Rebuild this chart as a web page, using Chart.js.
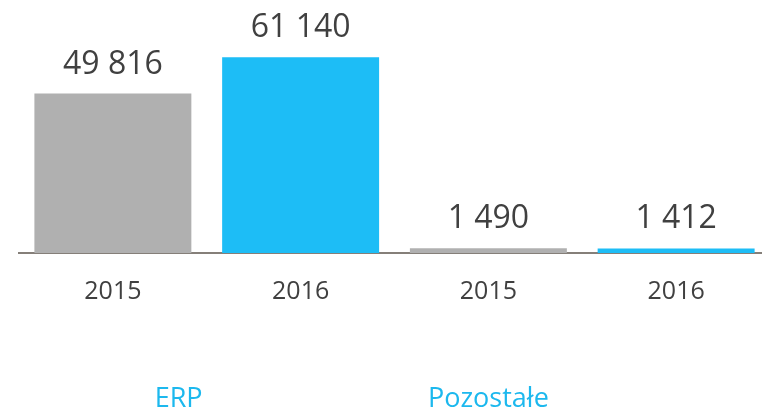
<!DOCTYPE html>
<html>
<head>
<meta charset="utf-8">
<script src="https://cdn.jsdelivr.net/npm/chart.js@4/dist/chart.umd.min.js"></script>
<style>
  html, body { margin: 0; padding: 0; background: #fff; overflow: hidden; }
  #chart { display: block; }
</style>
</head>
<body>
<canvas id="chart" width="770" height="411"></canvas>
<script>
// Data
const years = ['2015', '2016', '2015', '2016'];
const values = [49816, 61140, 1490, 1412];
const barColors = ['#b0b0b0', '#1dbdf6', '#b0b0b0', '#1dbdf6'];
const groups = ['ERP', 'Pozostałe'];

function fmt(n) {
  return String(n).replace(/\B(?=(\d{3})+(?!\d))/g, ' ');
}

// value labels above bars + group names under the axis
const labelsPlugin = {
  id: 'labels',
  afterDatasetsDraw(chart) {
    const ctx = chart.ctx;
    const meta = chart.getDatasetMeta(0);
    ctx.save();
    ctx.fillStyle = '#404040';
    ctx.font = '32px "Open Sans"';
    ctx.textAlign = 'center';
    ctx.textBaseline = 'alphabetic';
    meta.data.forEach((bar, i) => {
      ctx.fillText(fmt(values[i]), bar.x, bar.y - 20);
    });

    const x = chart.scales.x;
    const groupAt = [0.35, 2];
    ctx.fillStyle = '#1cb8ee';
    ctx.font = '27px "Open Sans"';
    groups.forEach((g, i) => {
      ctx.fillText(g, x.getPixelForValue(groupAt[i]), 407);
    });
    ctx.restore();
  }
};

new Chart(document.getElementById('chart'), {
  type: 'bar',
  data: {
    labels: years,
    datasets: [{
      data: values,
      backgroundColor: barColors,
      borderWidth: 0,
      categoryPercentage: 1,
      barPercentage: 0.836
    }]
  },
  options: {
    responsive: false,
    animation: false,
    layout: { padding: { top: 29, left: 19, right: 0, bottom: 0 } },
    plugins: { legend: { display: false }, tooltip: { enabled: false } },
    scales: {
      x: {
        grid: { display: false, drawTicks: false },
        border: { display: true, color: '#857f79', width: 2 },
        ticks: {
          color: '#404040',
          font: { family: 'Open Sans', size: 25 },
          padding: 24
        },
        afterFit(scale) { scale.height = 158; }
      },
      y: {
        display: false,
        min: 0,
        max: 70000
      }
    }
  },
  plugins: [labelsPlugin]
});
</script>
</body>
</html>
